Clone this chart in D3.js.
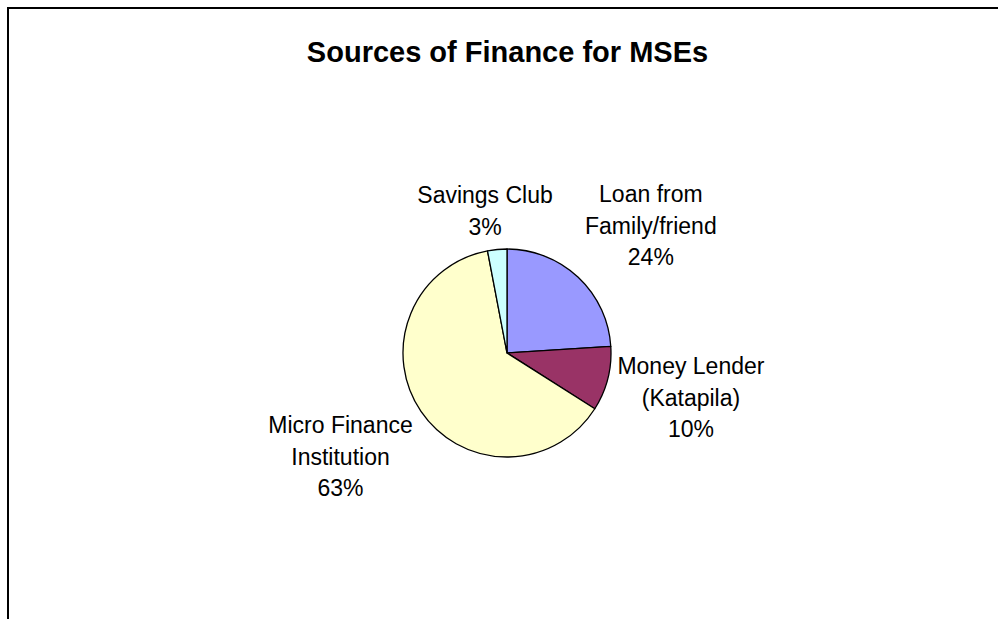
<!DOCTYPE html>
<html>
<head>
<meta charset="utf-8">
<script src="https://cdn.jsdelivr.net/npm/d3@7"></script>
<style>
  html, body { margin: 0; padding: 0; background: #fff; }
  svg { display: block; }
  text { font-family: "Liberation Sans", Arial, sans-serif; fill: #000; }
</style>
</head>
<body>
<svg id="chart" width="998" height="619"></svg>
<script>
// Sources of finance, share of MSEs (%)
const categories = ["Loan from Family/friend", "Money Lender (Katapila)", "Micro Finance Institution", "Savings Club"];
const labelLines = [["Loan from", "Family/friend"], ["Money Lender", "(Katapila)"], ["Micro Finance", "Institution"], ["Savings Club"]];
const values = [24, 10, 63, 3];
const colors = ["#9999FF", "#993366", "#FFFFCC", "#CCFFFF"];

const W = 998, H = 619;
const cx = 507, cy = 353, radius = 104;
const anchorRadius = 114;      // where each label box touches the mid-angle ray
const alignGain = 0.88;        // how strongly the box swings to the outside of the anchor
const fontSize = 23, lineHeight = 31.7, capHeight = fontSize * 0.716, descent = 4.5;

const svg = d3.select("#chart");

// chart frame (right and bottom edges run past the visible area)
svg.append("rect")
  .attr("x", 8).attr("y", 8)
  .attr("width", W + 20).attr("height", H + 20)
  .attr("fill", "#fff").attr("stroke", "#000").attr("stroke-width", 2);

svg.append("text")
  .attr("x", 507.5).attr("y", 62)
  .attr("text-anchor", "middle")
  .style("font-size", "29px").style("font-weight", "bold")
  .text("Sources of Finance for MSEs");

const data = categories.map((c, i) => ({ name: c, value: values[i], lines: labelLines[i], color: colors[i] }));

const pie = d3.pie().value(d => d.value).sort(null);
const arcs = pie(data);
const arc = d3.arc().innerRadius(0).outerRadius(radius);

const g = svg.append("g").attr("transform", `translate(${cx},${cy})`);

g.selectAll("path.slice")
  .data(arcs)
  .join("path")
  .attr("class", "slice")
  .attr("d", arc)
  .attr("fill", d => d.data.color)
  .attr("stroke", "#000")
  .attr("stroke-width", 1.3)
  .attr("stroke-linejoin", "round");

// labels sit outside each slice: the box touches an anchor on the mid-angle ray
const clamp01 = v => Math.max(0, Math.min(1, v));
const labels = g.selectAll("g.label")
  .data(arcs)
  .join("g")
  .attr("class", "label");

labels.each(function(d) {
  const sel = d3.select(this);
  const lines = d.data.lines.concat([d.data.value + "%"]);
  const texts = sel.selectAll("text")
    .data(lines)
    .join("text")
    .attr("text-anchor", "middle")
    .style("font-size", fontSize + "px")
    .text(t => t);
  const w = d3.max(texts.nodes(), n => n.getComputedTextLength());
  const h = (lines.length - 1) * lineHeight + capHeight + descent;
  const a = (d.startAngle + d.endAngle) / 2;
  const ax = Math.sin(a) * anchorRadius, ay = -Math.cos(a) * anchorRadius;
  const fx = clamp01(0.5 - alignGain * Math.sin(a));
  const fy = clamp01(0.5 + alignGain * Math.cos(a));
  const left = ax - fx * w, top = ay - fy * h;
  texts.attr("x", left + w / 2).attr("y", (t, i) => top + capHeight + i * lineHeight);
});
</script>
</body>
</html>
